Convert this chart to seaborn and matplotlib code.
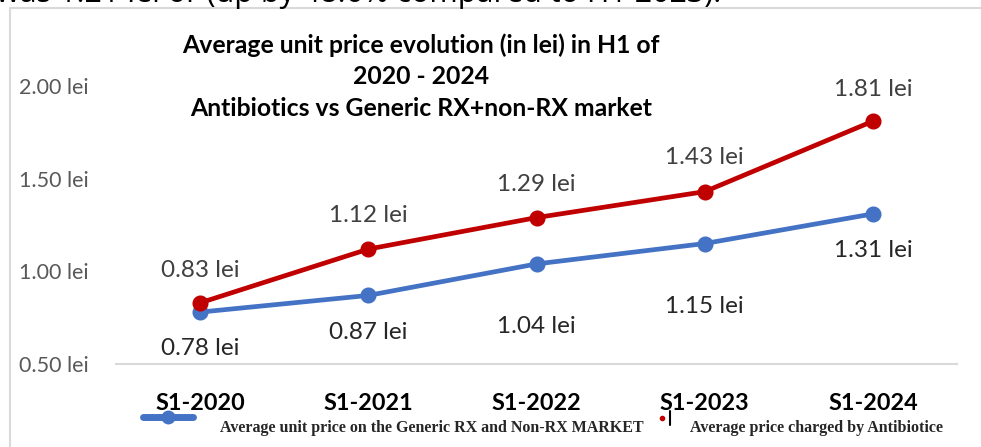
import numpy as np
import pandas as pd
import matplotlib
matplotlib.use("Agg")
import matplotlib.pyplot as plt
from matplotlib.lines import Line2D
import seaborn as sns

periods = ["S1-2020", "S1-2021", "S1-2022", "S1-2023", "S1-2024"]
generic_market = [0.78, 0.87, 1.04, 1.15, 1.31]
antibiotice = [0.83, 1.12, 1.29, 1.43, 1.81]
y_ticks = [0.50, 1.00, 1.50, 2.00]
series_names = ["Average unit price on the Generic RX and Non-RX MARKET",
                "Average price charged by Antibiotice"]
title_lines = ["Average unit price evolution (in lei) in H1 of", "2020 - 2024",
               "Antibiotics vs Generic RX+non-RX market"]
top_text = "was 1.21 lei or (up by 48.6% compared to H1 2023)."

sns.set_theme(style="white")
plt.rcParams['font.family'] = ['Lato', 'DejaVu Sans']

W, H = 981, 447
fig = plt.figure(figsize=(W / 100, H / 100), dpi=100)
ax = fig.add_axes([116 / W, (H - 364) / H, (957 - 116) / W, (364 - 86) / H])

BLUE = "#4472C4"
RED = "#C00000"

df = pd.DataFrame({"period": periods * 2,
                   "price": generic_market + antibiotice,
                   "series": [series_names[0]] * 5 + [series_names[1]] * 5})

sns.pointplot(data=df, x="period", y="price", hue="series", order=periods,
              palette=[BLUE, RED], markers="o", linestyles="-", ax=ax,
              legend=False, markersize=9, linewidth=3.4, errorbar=None)
for l in ax.lines:
    l.set_clip_on(False)

ax.set_xlim(-0.5, len(periods) - 0.5)
ax.set_ylim(0.5, 2.0)
ax.set_yticks(y_ticks)
ax.set_yticklabels([f"{v:.2f} lei" for v in y_ticks], color="#595959", fontsize=15.5)
ax.tick_params(axis="y", length=0, pad=19.5)
ax.tick_params(axis="x", length=0, pad=21)
for lab in ax.get_xticklabels():
    lab.set_fontweight("bold")
    lab.set_fontsize(16.8)
    lab.set_color("black")
ax.set_xlabel("")
ax.set_ylabel("")
for s in ["top", "right", "left"]:
    ax.spines[s].set_visible(False)
ax.spines["bottom"].set_color("#D9D9D9")
ax.spines["bottom"].set_linewidth(1.5)
ax.grid(False)

# data labels (pixel offsets are styling)
blue_off = [-36, -37, -63, -63, -37]
red_off = [32, 34, 33, 34, 32]
for i, v in enumerate(generic_market):
    ax.annotate(f"{v:.2f} lei", (i, v), xytext=(0, blue_off[i] * 0.72),
                textcoords="offset points", ha="center", va="center",
                fontsize=17.5, color="#262626", annotation_clip=False)
for i, v in enumerate(antibiotice):
    ax.annotate(f"{v:.2f} lei", (i, v), xytext=(0, red_off[i] * 0.72),
                textcoords="offset points", ha="center", va="center",
                fontsize=17.5, color="#404040", annotation_clip=False)

# title
for k, line in enumerate(title_lines):
    fig.text(421 / W, 1 - (45 + 32 * k) / H, line, ha="center", va="center",
             fontsize=17.8, fontweight="bold", color="black")

# outer frame (partial)
fig.add_artist(Line2D([10 / W, 10 / W], [0, 1 - 8 / H], transform=fig.transFigure,
                      color="#D9D9D9", linewidth=1.5))
fig.add_artist(Line2D([10 / W, 1.0], [1 - 8 / H, 1 - 8 / H], transform=fig.transFigure,
                      color="#D9D9D9", linewidth=1.5))

# clipped text line at top
fig.text(-4 / W, 1 - 2 / H, top_text, ha="left", va="baseline", fontsize=22,
         color="black", family=["Open Sans", "DejaVu Sans"])

# legend (manual, as in reference)
fig.add_artist(Line2D([143 / W, 193 / W], [1 - 417 / H, 1 - 417 / H],
                      transform=fig.transFigure, color=BLUE, linewidth=5,
                      solid_capstyle="round"))
fig.add_artist(Line2D([168 / W], [1 - 417 / H], transform=fig.transFigure,
                      color=BLUE, marker="o", markersize=9, linestyle="none"))
fig.text(220 / W, 1 - 428 / H, series_names[0], ha="left", va="center",
         fontsize=11.5, fontweight="bold", family=["Liberation Serif", "DejaVu Serif"])
fig.add_artist(Line2D([662 / W], [1 - 418 / H], transform=fig.transFigure,
                      color=RED, marker="o", markersize=3, linestyle="none"))
fig.add_artist(Line2D([670 / W, 670 / W], [1 - 411 / H, 1 - 425 / H],
                      transform=fig.transFigure, color="black", linewidth=1.5))
fig.text(690 / W, 1 - 428 / H, series_names[1], ha="left", va="center",
         fontsize=11.5, fontweight="bold", family=["Liberation Serif", "DejaVu Serif"])

fig.savefig("out.png", dpi=100)
